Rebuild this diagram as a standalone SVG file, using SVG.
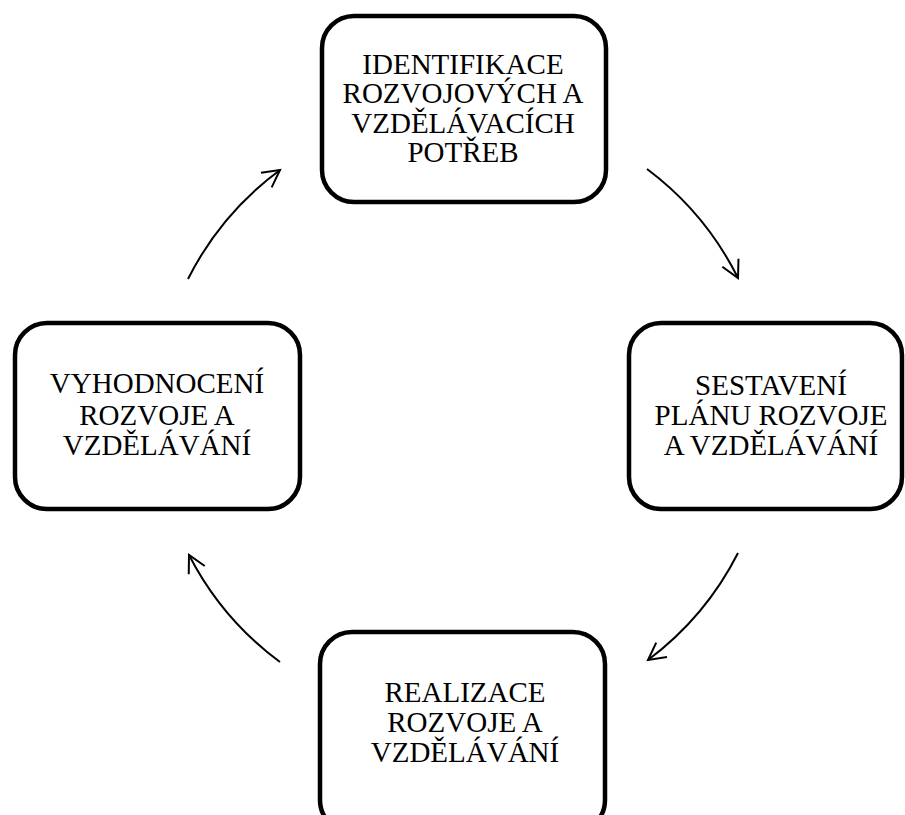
<svg xmlns="http://www.w3.org/2000/svg" width="905" height="815" viewBox="0 0 905 815">
<style>
.box{fill:#fff;stroke:#000;stroke-width:4.5}
.t{font-family:"Liberation Serif","Times New Roman",serif;font-size:29px;fill:#000;text-anchor:middle}
.c{fill:none;stroke:#000;stroke-width:2;marker-end:url(#ah)}
</style>
<defs>
<marker id="ah" markerUnits="userSpaceOnUse" markerWidth="40" markerHeight="40" viewBox="-20 -20 40 40" refX="0" refY="0" orient="auto">
<path d="M-17,-9 L0,0 L-17,9" fill="none" stroke="#000" stroke-width="2"/>
</marker>
</defs>
<rect width="905" height="815" fill="#fff"/>
<g id="connectors">
<path class="c" d="M188,279 A307,307 0 0 1 280,170"/>
<path class="c" d="M647,169 A307,307 0 0 1 738,278"/>
<path class="c" d="M738,553 A307,307 0 0 1 648,660"/>
<path class="c" d="M280,662 A307,307 0 0 1 189,555"/>
</g>
<g id="node-identifikace">
<rect class="box" x="322" y="16" width="284" height="186" rx="32"/>
<text class="t" x="463" y="74">IDENTIFIKACE</text>
<text class="t" x="463" y="103">ROZVOJOVÝCH A</text>
<text class="t" x="463" y="133">VZDĚLÁVACÍCH</text>
<text class="t" x="463" y="162">POTŘEB</text>
</g>
<g id="node-sestaveni">
<rect class="box" x="629" y="323" width="273" height="186" rx="32"/>
<text class="t" x="771" y="395">SESTAVENÍ</text>
<text class="t" x="771" y="425">PLÁNU ROZVOJE</text>
<text class="t" x="771" y="455">A VZDĚLÁVÁNÍ</text>
</g>
<g id="node-realizace">
<rect class="box" x="320" y="632" width="285" height="200" rx="32"/>
<text class="t" x="465" y="702">REALIZACE</text>
<text class="t" x="465" y="732">ROZVOJE A</text>
<text class="t" x="465" y="762">VZDĚLÁVÁNÍ</text>
</g>
<g id="node-vyhodnoceni">
<rect class="box" x="15" y="323" width="285" height="186" rx="32"/>
<text class="t" x="157" y="393">VYHODNOCENÍ</text>
<text class="t" x="157" y="425">ROZVOJE A</text>
<text class="t" x="157" y="455">VZDĚLÁVÁNÍ</text>
</g>
</svg>
